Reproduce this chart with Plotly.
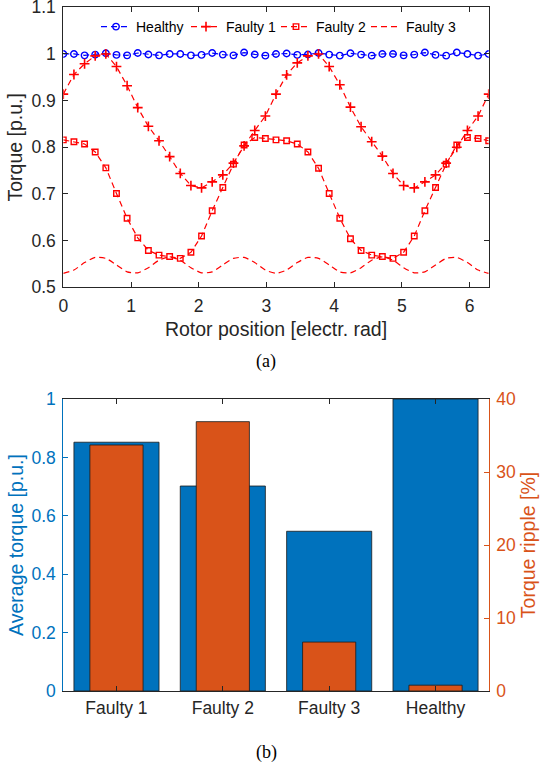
import math
import plotly.graph_objects as go

# ---------------- data ----------------
# rotor position samples: 0 .. 2*pi in 40 steps
n_steps = 40
theta = [i * 2 * math.pi / n_steps for i in range(n_steps + 1)]

healthy = [1.000, 1.000, 0.997, 0.9986, 1.0014, 0.998, 0.997, 1.002, 0.999, 0.997,
           1.000, 1.000, 0.997, 0.998, 1.002, 0.9986, 0.997, 1.003, 0.999, 0.9964,
           1.000, 1.001, 0.998, 0.999, 1.002, 0.9986, 0.9964, 1.0014, 0.9986, 0.9964,
           1.000, 1.000, 0.997, 0.9986, 1.003, 0.998, 0.9964, 1.003, 1.000, 0.9964,
           1.000]

faulty1 = [0.914, 0.956, 0.979, 0.996, 1.000, 0.973, 0.932, 0.885, 0.845, 0.814,
           0.780, 0.744, 0.718, 0.713, 0.726, 0.741, 0.766, 0.803, 0.836, 0.867,
           0.914, 0.955, 0.981, 0.996, 1.000, 0.973, 0.934, 0.886, 0.844, 0.812,
           0.781, 0.744, 0.718, 0.713, 0.726, 0.741, 0.766, 0.800, 0.836, 0.867,
           0.914]

faulty2 = [0.816, 0.812, 0.807, 0.790, 0.756, 0.701, 0.648, 0.606, 0.579, 0.569,
           0.566, 0.562, 0.575, 0.610, 0.664, 0.714, 0.764, 0.805, 0.821, 0.819,
           0.816, 0.814, 0.807, 0.790, 0.755, 0.701, 0.648, 0.604, 0.579, 0.569,
           0.566, 0.562, 0.575, 0.610, 0.664, 0.714, 0.764, 0.805, 0.821, 0.819,
           0.814]

faulty3 = [0.530, 0.537, 0.553, 0.564, 0.562, 0.548, 0.533, 0.531, 0.542, 0.558,
           0.565, 0.558, 0.542, 0.531, 0.533, 0.548, 0.562, 0.564, 0.553, 0.537,
           0.530, 0.537, 0.553, 0.564, 0.562, 0.548, 0.533, 0.531, 0.542, 0.558,
           0.565, 0.558, 0.542, 0.531, 0.533, 0.548, 0.562, 0.564, 0.553, 0.537,
           0.530]

bar_categories = ["Faulty 1", "Faulty 2", "Faulty 3", "Healthy"]
avg_torque = [0.852, 0.702, 0.547, 1.000]
torque_ripple = [33.7, 36.9, 6.7, 0.8]

x_ticks = [0, 1, 2, 3, 4, 5, 6]
y_ticks_top = [0.5, 0.6, 0.7, 0.8, 0.9, 1.0, 1.1]
y_ticks_left = [0, 0.2, 0.4, 0.6, 0.8, 1.0]
y_ticks_right = [0, 10, 20, 30, 40]

# ---------------- styling ----------------
W, H = 542, 765
FONT = "Liberation Sans, Arial, Helvetica, sans-serif"
AX = "#262626"
BLUE = "#0072BD"
ORANGE = "#D95319"
TICK_SIZE = 17.5
TITLE_SIZE = 19.5


def px_x(p):
    return min(1.0, max(0.0, p / W))


def px_y(p):
    return min(1.0, max(0.0, 1 - p / H))


fig = go.Figure()

dash = "6px,4px"
fig.add_trace(go.Scatter(
    x=theta, y=healthy, name="Healthy", mode="lines+markers",
    line=dict(color="#0000FF", width=1.2, dash=dash),
    marker=dict(symbol="circle-open", size=6.5, color="#0000FF",
                line=dict(width=1.4, color="#0000FF")),
    xaxis="x", yaxis="y"))
fig.add_trace(go.Scatter(
    x=theta, y=faulty1, name="Faulty 1", mode="lines+markers",
    line=dict(color="#FF0000", width=1.2, dash=dash),
    marker=dict(symbol="cross-thin-open", size=7, color="#FF0000",
                line=dict(width=1.6, color="#FF0000")),
    xaxis="x", yaxis="y"))
fig.add_trace(go.Scatter(
    x=theta, y=faulty2, name="Faulty 2", mode="lines+markers",
    line=dict(color="#FF0000", width=1.2, dash=dash),
    marker=dict(symbol="square-open", size=5.5, color="#FF0000",
                line=dict(width=1.4, color="#FF0000")),
    xaxis="x", yaxis="y"))
fig.add_trace(go.Scatter(
    x=theta, y=faulty3, name="Faulty 3", mode="lines",
    line=dict(color="#FF0000", width=1.2, dash=dash, shape="spline", smoothing=0.6),
    xaxis="x", yaxis="y"))

fig.add_trace(go.Bar(
    x=bar_categories, y=avg_torque, width=0.8, showlegend=False,
    marker=dict(color=BLUE, line=dict(color="#1a1a1a", width=0.8)),
    xaxis="x2", yaxis="y2"))
fig.add_trace(go.Bar(
    x=bar_categories, y=torque_ripple, width=0.5, showlegend=False,
    marker=dict(color=ORANGE, line=dict(color="#1a1a1a", width=0.8)),
    xaxis="x2", yaxis="y3"))

common_axis = dict(showline=True, linewidth=1, ticks="inside", ticklen=5,
                   showgrid=False, zeroline=False, ticklabeloverflow="allow",
                   tickfont=dict(family=FONT, size=TICK_SIZE))

x_dom = [px_x(63.3), px_x(488.7)]

fig.update_layout(
    width=W, height=H, autosize=False,
    template="none",
    paper_bgcolor="white", plot_bgcolor="white",
    margin=dict(l=0, r=0, t=0, b=0),
    font=dict(family=FONT, color=AX),
    barmode="overlay",
    showlegend=True,
    legend=dict(orientation="h", x=px_x(276), y=px_y(27), xanchor="center",
                yanchor="middle", bgcolor="rgba(0,0,0,0)",
                font=dict(family=FONT, size=14, color="#000000"),
                entrywidth=45, itemwidth=30, tracegroupgap=0),
    xaxis=dict(domain=x_dom, anchor="y", range=[0, 2 * math.pi],
               tickmode="array", tickvals=x_ticks, mirror="ticks",
               linecolor=AX, tickcolor=AX, ticklabelstandoff=3,
               title=dict(text="Rotor position [electr. rad]",
                          font=dict(family=FONT, size=TITLE_SIZE), standoff=7),
               **common_axis),
    yaxis=dict(domain=[px_y(287.3), px_y(7.3)], anchor="x", range=[0.5, 1.1000001],
               tickmode="array", tickvals=y_ticks_top, mirror="ticks",
               linecolor=AX, tickcolor=AX, ticklabelstandoff=3,
               title=dict(text="Torque [p.u.]",
                          font=dict(family=FONT, size=TITLE_SIZE), standoff=3),
               **common_axis),
    xaxis2=dict(domain=x_dom, anchor="y2", type="category",
                categoryorder="array", categoryarray=bar_categories,
                range=[-0.5, 3.5], mirror="ticks",
                linecolor=AX, tickcolor=AX, ticklabelstandoff=1,
                **common_axis),
    yaxis2=dict(domain=[px_y(691), px_y(399)], anchor="x2", range=[0, 1.0000001],
                tickmode="array", tickvals=y_ticks_left, mirror=False,
                linecolor=BLUE, tickcolor=BLUE, color=BLUE, ticklabelstandoff=3,
                title=dict(text="Average torque [p.u.]",
                           font=dict(family=FONT, size=TITLE_SIZE, color=BLUE),
                           standoff=2),
                **common_axis),
    yaxis3=dict(overlaying="y2", anchor="x2", side="right", range=[0, 40.000001],
                tickmode="array", tickvals=y_ticks_right,
                linecolor=ORANGE, tickcolor=ORANGE, color=ORANGE, ticklabelstandoff=3,
                title=dict(text="Torque ripple [%]",
                           font=dict(family=FONT, size=TITLE_SIZE, color=ORANGE),
                           standoff=6),
                **common_axis),
    annotations=[
        dict(text="(a)", x=px_x(266), y=px_y(361), xref="paper", yref="paper",
             showarrow=False, xanchor="center", yanchor="middle",
             font=dict(family="Liberation Serif, Times New Roman, serif",
                       size=18, color="#000000")),
        dict(text="(b)", x=px_x(266), y=px_y(752), xref="paper", yref="paper",
             showarrow=False, xanchor="center", yanchor="middle",
             font=dict(family="Liberation Serif, Times New Roman, serif",
                       size=18, color="#000000")),
    ],
)

fig.write_html("out.html",
               config={"displayModeBar": False, "staticPlot": True},
               post_script="document.body.style.margin='0px';"
                           "document.body.style.overflow='hidden';")
